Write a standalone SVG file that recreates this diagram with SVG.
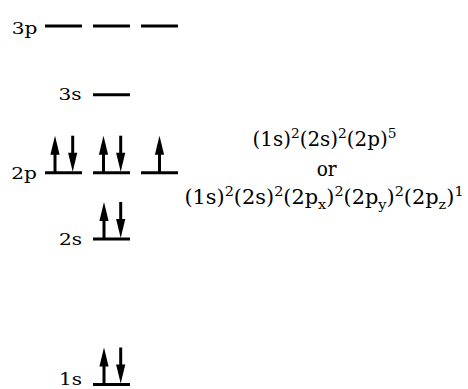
<svg xmlns="http://www.w3.org/2000/svg" width="468" height="389" viewBox="0 0 468 389">
<style>
.lvl{stroke:#000;stroke-width:3;fill:none}
.lab{font-size:16.5px;fill:#000}
.cfg{font-size:19.5px;fill:#000}
.s{font-size:13.5px}
</style>
<defs>
<g id="up"><line x1="0" y1="0" x2="0" y2="-19" stroke="#000" stroke-width="3"/><polygon points="0,-37 -4.6,-18 4.6,-18" fill="#000"/></g>
<g id="down"><line x1="0" y1="-37" x2="0" y2="-19" stroke="#000" stroke-width="3"/><polygon points="-4.6,-20 4.6,-20 0,-1" fill="#000"/></g>
</defs>
<rect width="468" height="389" fill="#fff"/>

<g id="level-3p" font-family="'DejaVu Serif', 'Liberation Serif', serif">
<text class="lab" text-anchor="end" transform="translate(37.5,33.5) scale(1.22,1)">3p</text>
<line class="lvl" x1="45" y1="26" x2="82" y2="26"/>
<line class="lvl" x1="93" y1="26" x2="130" y2="26"/>
<line class="lvl" x1="141" y1="26" x2="178" y2="26"/>
</g>

<g id="level-3s" font-family="'DejaVu Serif', 'Liberation Serif', serif">
<text class="lab" text-anchor="end" transform="translate(81.5,99.5) scale(1.22,1)">3s</text>
<line class="lvl" x1="93" y1="94.7" x2="130" y2="94.7"/>
</g>

<g id="level-2p" font-family="'DejaVu Serif', 'Liberation Serif', serif">
<text class="lab" text-anchor="end" transform="translate(37,178.5) scale(1.22,1)">2p</text>
<line class="lvl" x1="45" y1="172.7" x2="82" y2="172.7"/>
<line class="lvl" x1="93" y1="172.7" x2="130" y2="172.7"/>
<line class="lvl" x1="141" y1="172.7" x2="178" y2="172.7"/>
<use href="#up" x="55" y="172.7"/>
<use href="#down" x="72.7" y="172.7"/>
<use href="#up" x="103.5" y="172.7"/>
<use href="#down" x="120.7" y="172.7"/>
<use href="#up" x="159.5" y="172.7"/>
</g>

<g id="level-2s" font-family="'DejaVu Serif', 'Liberation Serif', serif">
<text class="lab" text-anchor="end" transform="translate(82,244.5) scale(1.22,1)">2s</text>
<line class="lvl" x1="93" y1="239" x2="130" y2="239"/>
<use href="#up" x="104" y="239"/>
<use href="#down" x="120.7" y="239"/>
</g>

<g id="level-1s" font-family="'DejaVu Serif', 'Liberation Serif', serif">
<text class="lab" text-anchor="end" transform="translate(82,385) scale(1.22,1)">1s</text>
<line class="lvl" x1="93" y1="384.5" x2="130" y2="384.5"/>
<use href="#up" x="104" y="384.5"/>
<use href="#down" x="120.7" y="384.5"/>
</g>

<g id="configuration" font-family="'DejaVu Serif', 'Liberation Serif', serif">
<text class="cfg" text-anchor="middle" transform="translate(324.5,146) scale(1.02,1)">(1s)<tspan class="s" dy="-8">2</tspan><tspan dy="8">(2s)</tspan><tspan class="s" dy="-8">2</tspan><tspan dy="8">(2p)</tspan><tspan class="s" dy="-8">5</tspan></text>
<text class="cfg" text-anchor="middle" transform="translate(326.7,175.5) scale(0.95,1)">or</text>
<text class="cfg" text-anchor="middle" transform="translate(324,204) scale(1.07,1)">(1s)<tspan class="s" dy="-8">2</tspan><tspan dy="8">(2s)</tspan><tspan class="s" dy="-8">2</tspan><tspan dy="8">(2p</tspan><tspan class="s" dy="5">x</tspan><tspan dy="-5">)</tspan><tspan class="s" dy="-8">2</tspan><tspan dy="8">(2p</tspan><tspan class="s" dy="5">y</tspan><tspan dy="-5">)</tspan><tspan class="s" dy="-8">2</tspan><tspan dy="8">(2p</tspan><tspan class="s" dy="5">z</tspan><tspan dy="-5">)</tspan><tspan class="s" dy="-8">1</tspan></text>
</g>
</svg>
